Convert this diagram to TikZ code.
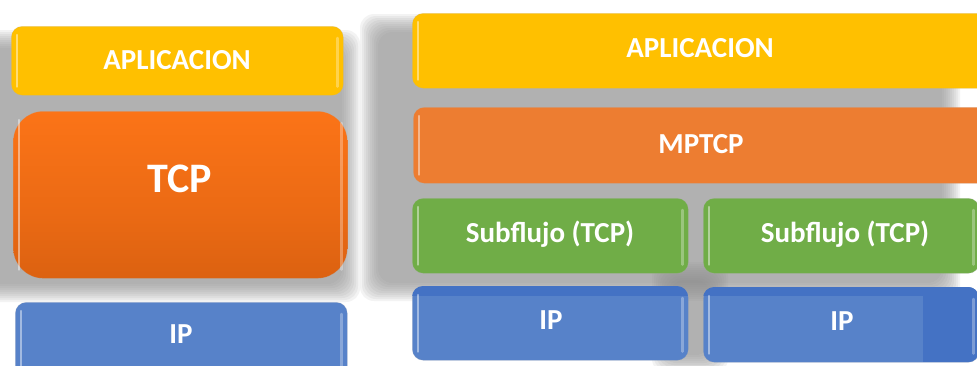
\documentclass[tikz,border=0pt]{standalone}
\usepackage{fontspec}
\setmainfont{Carlito}
\definecolor{appY}{HTML}{FFC000}
\definecolor{mpO}{HTML}{ED7D31}
\definecolor{subG}{HTML}{70AD47}
\definecolor{ipB}{HTML}{5782C9}
\definecolor{ipD}{HTML}{4472C4}
\definecolor{tcpTop}{HTML}{BE5A12}
\definecolor{tcpBright}{HTML}{FF7618}
\definecolor{tcpMid}{HTML}{EB6A14}
\definecolor{tcpBot}{HTML}{C9570C}
\definecolor{bgshade}{HTML}{8E8E8E}
\pgfdeclareverticalshading{tcpsh}{100bp}{color(0bp)=(tcpBot); color(45bp)=(tcpMid); color(82bp)=(tcpBright); color(94bp)=(tcpBright); color(100bp)=(tcpTop)}
\newcommand{\softbg}[4]{%
  \foreach \i in {0,...,9}{%
    \fill[bgshade, fill opacity=0.1, rounded corners=14pt]
      ({#1+10-2*\i},{#2+10-2*\i}) rectangle ({#3-10+2*\i},{#4-10+2*\i});}}
\newcommand{\gloss}[1]{%
  \draw[white, opacity=0.45, line width=2.5pt, line cap=round]
    ([xshift=6pt,yshift=-9pt]#1.north west) -- ([xshift=6pt,yshift=9pt]#1.south west);
  \draw[white, opacity=0.3, line width=2.5pt, line cap=round]
    ([xshift=-6pt,yshift=-12pt]#1.north east) -- ([xshift=-6pt,yshift=9pt]#1.south east);}
\begin{document}
\begin{tikzpicture}[x=1pt,y=-1pt,
  layerbox/.style={draw=white!70!black, draw opacity=0.25, line width=0.6pt, rounded corners=11pt, inner sep=0pt, anchor=north west},
  lbl/.style={text=white, font=\bfseries\fontsize{29}{29}\selectfont, inner sep=0pt, anchor=base},
  biglbl/.style={text=white, font=\bfseries\fontsize{42}{42}\selectfont, inner sep=0pt, anchor=base}]
\useasboundingbox (0,0) rectangle (977,365);
\clip (0,0) rectangle (977,365);
\fill[white] (0,0) rectangle (977,365);
% soft grey background shadows
\softbg{-30}{38}{352}{294}
\softbg{368}{22}{952}{293}
\softbg{660}{270}{720}{365}
% left stack
\node[layerbox, fill=appY, minimum width=332pt, minimum height=69pt] (lapp) at (11,26) {};
\node[layerbox, shading=tcpsh, rounded corners=30pt, minimum width=334pt, minimum height=167pt] (tcp) at (13,111) {};
\node[layerbox, fill=ipB, minimum width=332pt, minimum height=90pt] (lip) at (15,302) {};
% right stack
\node[layerbox, fill=appY, minimum width=580pt, minimum height=75pt] (rapp) at (412,13) {};
\node[layerbox, fill=mpO, minimum width=580pt, minimum height=76pt] (mptcp) at (413,107) {};
\node[layerbox, fill=subG, minimum width=276pt, minimum height=75pt] (subA) at (412,198) {};
\node[layerbox, fill=subG, minimum width=276pt, minimum height=75pt] (subB) at (703,198) {};
\node[layerbox, fill=ipB, minimum width=276pt, minimum height=74pt] (ipA) at (412,286) {};
\node[layerbox, fill=ipB, minimum width=276pt, minimum height=75pt] (ipB) at (703,287) {};
% darker tints
\begin{scope}
  \clip[rounded corners=11pt] (412,286) rectangle (688,360);
  \fill[ipD] (412,286) rectangle (688,296);
\end{scope}
\begin{scope}
  \clip[rounded corners=11pt] (703,287) rectangle (979,362);
  \fill[ipD] (923,287) rectangle (979,362);
  \fill[ipD] (703,287) rectangle (979,296);
\end{scope}
% gloss highlights
\gloss{lapp}\gloss{tcp}\gloss{lip}\gloss{rapp}\gloss{mptcp}\gloss{subA}\gloss{subB}\gloss{ipA}\gloss{ipB}
% labels
\node[lbl] (lappt) at (177,69) {APLICACION};
\node[biglbl] (tcpt) at (180,192) {TCP};
\node[lbl] (lipt) at (181,343) {IP};
\node[lbl] (rappt) at (700,57) {APLICACION};
\node[lbl] (mptcpt) at (701,153) {MPTCP};
\node[lbl] (subAt) at (550,242) {Subflujo (TCP)};
\node[lbl] (subBt) at (845,242) {Subflujo (TCP)};
\node[lbl] (ipAt) at (551,329) {IP};
\node[lbl] (ipBt) at (842,330) {IP};
\end{tikzpicture}
\end{document}
